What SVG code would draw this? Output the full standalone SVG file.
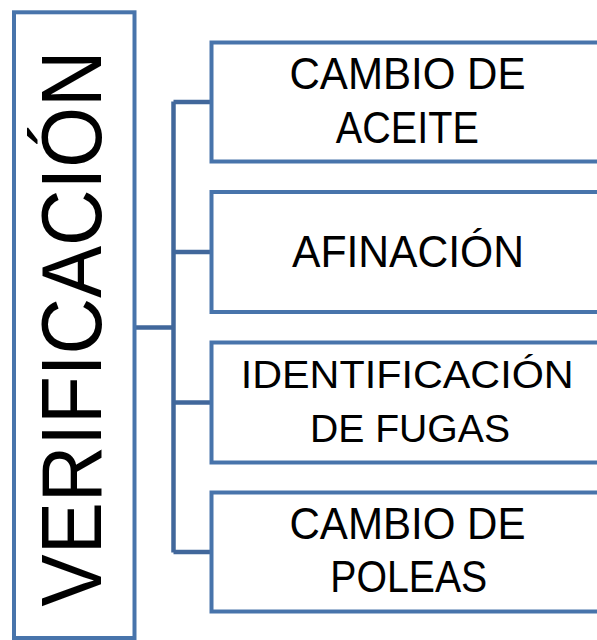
<svg xmlns="http://www.w3.org/2000/svg" width="597" height="640" viewBox="0 0 597 640">
<style>
  .box { fill: #ffffff; stroke: #4874AB; stroke-width: 4; }
  .conn { fill: none; stroke: #41679B; stroke-width: 4.5; }
  .t { font-family: "Liberation Sans", Arial, sans-serif; fill: #000000; text-anchor: middle; }
  .big { font-size: 44px; }
  .mid { font-size: 38.5px; }
  .vert { font-size: 85px; }
</style>
<rect width="597" height="640" fill="#ffffff"/>
<g id="connectors">
  <path class="conn" d="M134.5 327.5 H173.5"/>
  <path class="conn" d="M173.5 101.5 V552.5"/>
  <path class="conn" d="M173.5 102 H212"/>
  <path class="conn" d="M173.5 252 H212"/>
  <path class="conn" d="M173.5 402.5 H212"/>
  <path class="conn" d="M173.5 552 H212"/>
</g>
<g id="verificacion">
  <rect class="box" x="14" y="12.3" width="120.5" height="625.7"/>
  <text class="t vert" transform="translate(101 328.5) rotate(-90)" x="0" y="0" textLength="556" lengthAdjust="spacingAndGlyphs">VERIFICACIÓN</text>
</g>
<g id="cambio-aceite">
  <rect class="box" x="211.5" y="42.5" width="393" height="119"/>
  <text class="t big" x="407.5" y="89.3" textLength="236" lengthAdjust="spacingAndGlyphs">CAMBIO DE</text>
  <text class="t big" x="407.3" y="142.7" textLength="143" lengthAdjust="spacingAndGlyphs">ACEITE</text>
</g>
<g id="afinacion">
  <rect class="box" x="211.5" y="192" width="393" height="120"/>
  <text class="t big" x="408" y="266.7" textLength="232" lengthAdjust="spacingAndGlyphs">AFINACIÓN</text>
</g>
<g id="identificacion-fugas">
  <rect class="box" x="211.5" y="342.5" width="393" height="120"/>
  <text class="t mid" x="407.2" y="387.7" textLength="333" lengthAdjust="spacingAndGlyphs">IDENTIFICACIÓN</text>
  <text class="t mid" x="410" y="441.7" textLength="200" lengthAdjust="spacingAndGlyphs">DE FUGAS</text>
</g>
<g id="cambio-poleas">
  <rect class="box" x="211.5" y="492.5" width="393" height="119"/>
  <text class="t big" x="407.5" y="539.3" textLength="236" lengthAdjust="spacingAndGlyphs">CAMBIO DE</text>
  <text class="t big" x="408.8" y="591.7" textLength="157" lengthAdjust="spacingAndGlyphs">POLEAS</text>
</g>
</svg>
